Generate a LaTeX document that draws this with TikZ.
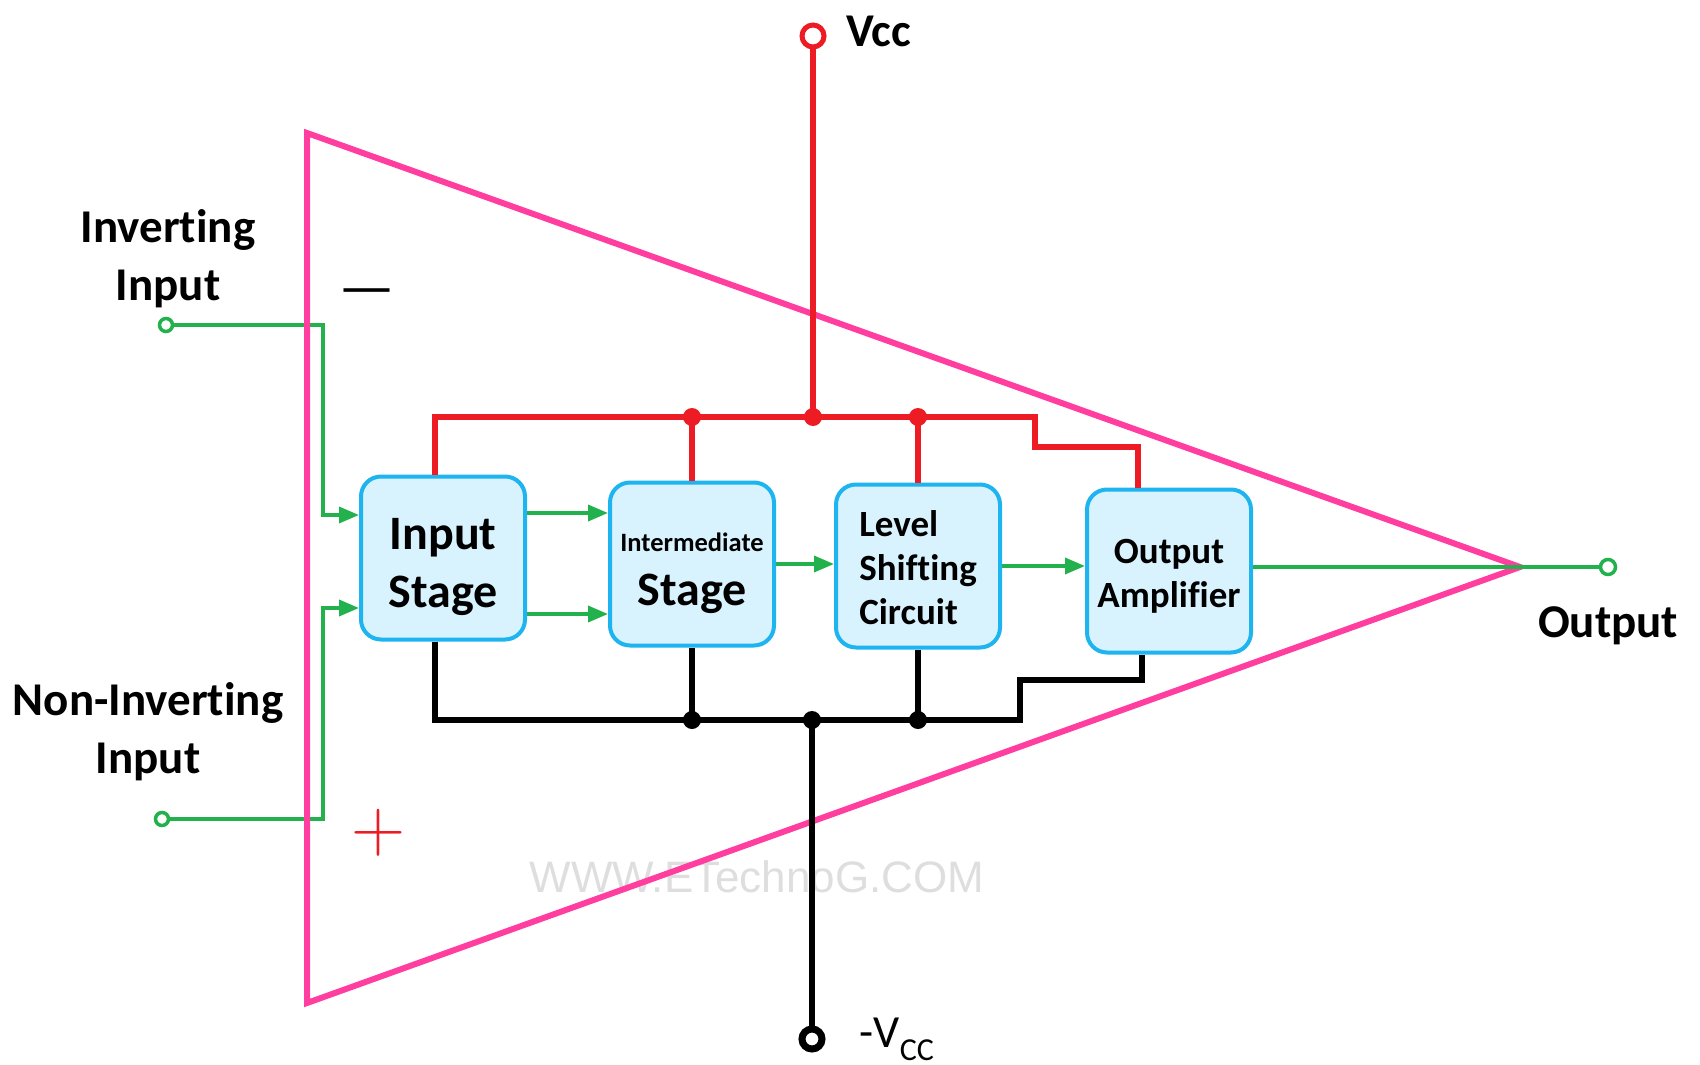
\documentclass[tikz,border=0pt]{standalone}
\usepackage{fontspec}
\newfontfamily\lblfont{Carlito}[Ligatures=NoCommon]
\newfontfamily\wmfont{Liberation Sans}
\newfontfamily\dashfont{DejaVu Sans}
\usetikzlibrary{arrows.meta, positioning}
\definecolor{amppink}{RGB}{255, 62, 160}
\definecolor{railred}{RGB}{237, 28, 36}
\definecolor{sigreen}{RGB}{34, 177, 76}
\definecolor{stageblue}{RGB}{30, 180, 240}
\definecolor{stagefill}{RGB}{217, 243, 254}
\newcommand{\fs}[2]{\fontsize{#1}{#2}\selectfont}
\newcommand{\topgap}[1]{\rule{0pt}{#1}}

\tikzset{
  stage/.style={draw=stageblue, fill=stagefill, line width=4pt, rounded corners=20pt,
    minimum width=164pt, minimum height=163pt, inner sep=0pt, align=center,
    font=\lblfont\bfseries\fs{48}{58}},
  lbl/.style={inner sep=0pt, align=center, font=\lblfont\bfseries\fs{47}{58}},
  term/.style={circle, fill=white, inner sep=0pt, minimum size=#1},
  jdot/.style={circle, fill, inner sep=0pt, minimum size=18pt},
  rail/.style={line width=6pt},
  sig/.style={draw=sigreen, line width=3.5pt},
  sigarrow/.style={sig, -{Triangle[length=20pt, width=16pt]}},
  wmark/.style={inner sep=0pt, text=black!13, font=\wmfont\fs{44}{44}}
}

\begin{document}
\begin{tikzpicture}[x=1pt, y=-1pt]
  \useasboundingbox (0,0) rectangle (1700,1065);

  % watermark
  \node[wmark] (wm) at (757,877) {WWW.ETechnoG.COM};

  % the four stages
  \node[stage] (instage) at (443,558) {\topgap{49pt}Input\\Stage};
  \node[stage, font=\lblfont\bfseries\fs{48}{54}] (midstage) at (692,564) {{\fs{26.5}{54}\topgap{37pt}Intermediate}\\Stage};
  \node[stage, align=left, font=\lblfont\bfseries\fs{37}{44}] (lvlshift) at (918,566) {\topgap{29pt}Level\\Shifting\\Circuit};
  \node[stage, font=\lblfont\bfseries\fs{37}{44}] (outamp) at (1169,571) {\topgap{35pt}Output\\Amplifier};

  % terminals
  \node[term=22pt, draw=railred, line width=5pt] (vccpin) at (813,36) {};
  \node[term=20pt, draw=black, line width=7pt] (veepin) at (812,1039) {};
  \node[term=13pt, draw=sigreen, line width=3.5pt] (invpin) at (166,325) {};
  \node[term=13pt, draw=sigreen, line width=3.5pt] (noninvpin) at (162,819) {};
  \node[term=15pt, draw=sigreen, line width=3.5pt] (outpin) at (1608,567) {};

  % junctions
  \foreach \nm/\x in {jr1/692, jr2/813, jr3/918}
    \node[jdot, railred] (\nm) at (\x,417) {};
  \foreach \nm/\x in {jb1/692, jb2/812, jb3/918}
    \node[jdot, black] (\nm) at (\x,720) {};
  \coordinate (rbend) at (1035,447);
  \coordinate (bbend) at (1020,680);

  % input wires
  \coordinate (ibend) at (323,325);
  \coordinate (nbend) at (323,819);
  \coordinate (ia) at ([yshift=43pt]instage.west);
  \coordinate (ib) at ([yshift=-50pt]instage.west);
  \draw[sigarrow] (invpin) -- (ibend) |- (ia);
  \draw[sigarrow] (noninvpin) -- (nbend) |- (ib);

  % amplifier symbol
  \coordinate (ttop) at (307,133);
  \coordinate (apex) at (1520,567);
  \coordinate (tbot) at (307,1003);
  \draw[draw=amppink, line width=6pt] (ttop) -- (apex) -- (tbot) -- cycle;

  % +Vcc rail
  \draw[rail, railred] (vccpin) -- (jr2.center);
  \draw[rail, railred] ([xshift=-8pt]instage.north) |- (jr1.center) -- (jr3.center) -| (rbend) -| ([xshift=-31pt]outamp.north);
  \draw[rail, railred] (jr1.center) -- (midstage.north);
  \draw[rail, railred] (jr3.center) -- (lvlshift.north);

  % -Vcc rail
  \draw[rail] (jb2.center) -- (veepin);
  \draw[rail] ([xshift=-8pt]instage.south) |- (jb1.center) -- (jb3.center) -| (bbend) -| ([xshift=-27pt]outamp.south);
  \draw[rail] (jb1.center) -- (midstage.south);
  \draw[rail] (jb3.center) -- (lvlshift.south);

  % signal path
  \coordinate (ua) at ([yshift=45pt]instage.east);
  \coordinate (ub) at ([yshift=-56pt]instage.east);
  \draw[sigarrow] (ua) -- (ua -| midstage.west);
  \draw[sigarrow] (ub) -- (ub -| midstage.west);
  \draw[sigarrow] (midstage.east) -- (midstage.east -| lvlshift.west);
  \draw[sigarrow] (lvlshift.east) -- (lvlshift.east -| outamp.west);
  \draw[sig] (outamp.east |- outpin) -- (outpin);

  % labels
  \node[lbl, above=9pt of invpin, xshift=2pt] (invlbl) {Inverting\\Input};
  \node[lbl, above=30pt of noninvpin, xshift=-14pt] (noninvlbl) {Non-Inverting\\Input};
  \node[lbl, below=30pt of outpin] (outlbl) {Output};
  \node[lbl, right=20pt of vccpin, yshift=5pt] (vcclbl) {Vcc};
  \node[inner sep=0pt, font=\lblfont\fs{46}{46}, right=34pt of veepin] (veelbl) {-V\raisebox{-13pt}{\fs{32}{32}CC}};
  \node[inner sep=0pt, font=\dashfont\fs{51}{51}] (minus) at (367,297) {—};
  \node[inner sep=0pt, font=\fs{75}{75}, text=railred] (plus) at (378,833) {+};
\end{tikzpicture}
\end{document}
